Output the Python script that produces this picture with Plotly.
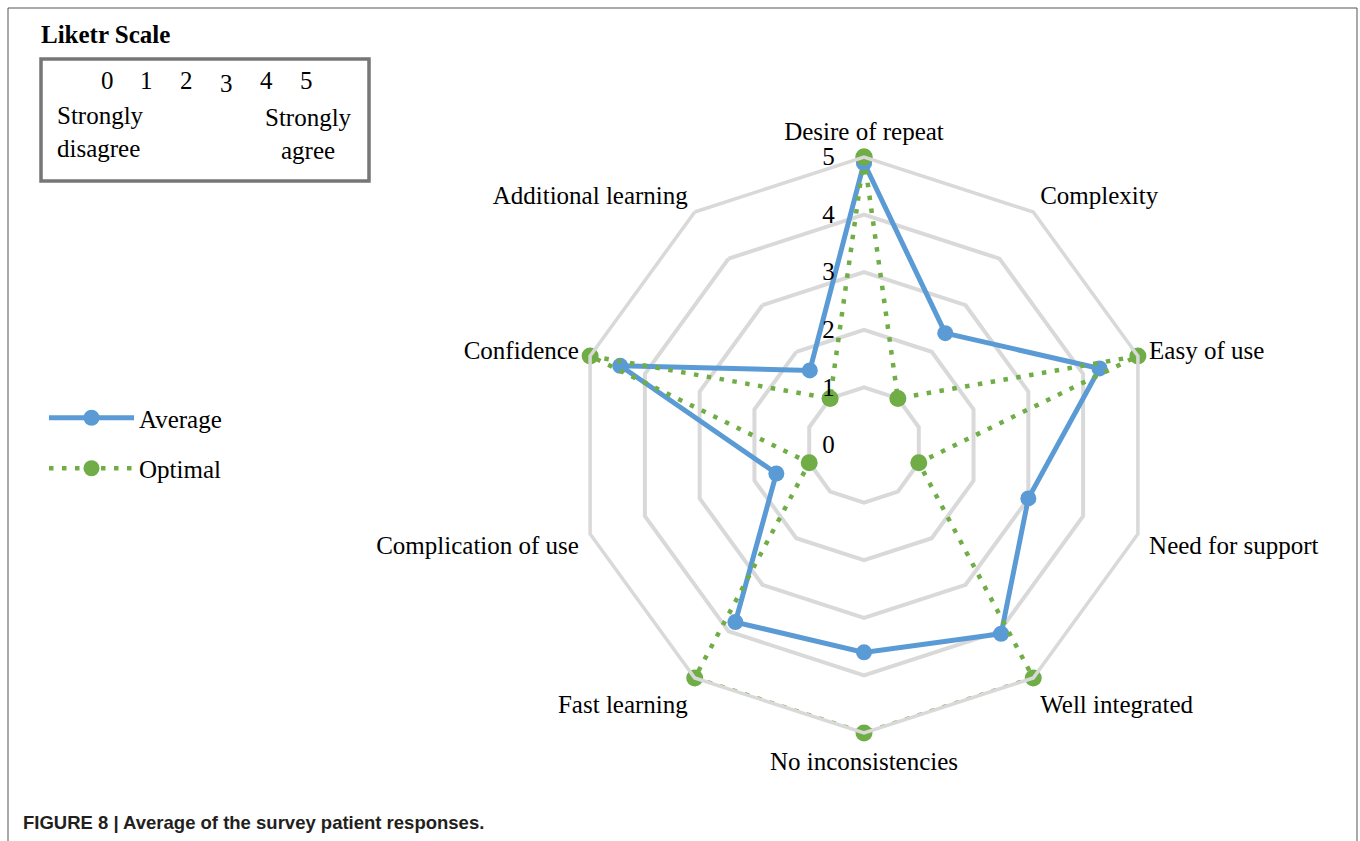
import plotly.graph_objects as go

categories = ["Desire of repeat", "Complexity", "Easy of use", "Need for support",
              "Well integrated", "No inconsistencies", "Fast learning",
              "Complication of use", "Confidence", "Additional learning"]
average = [4.9, 2.4, 4.3, 3.0, 4.05, 3.6, 3.8, 1.6, 4.45, 1.6]
optimal = [5, 1, 5, 1, 5, 5, 5, 1, 5, 1]
radial_ticks = [0, 1, 2, 3, 4, 5]
scale_numbers = ["0", "1", "2", "3", "4", "5"]

W, H = 1360, 841
SERIF = "Liberation Serif, Times New Roman, serif"
BLUE = "#5B9BD5"
GREEN = "#70AD47"
GRID = "#D9D9D9"
FS = 25


def px(x):
    return x / W


def py(y):
    return 1 - y / H


theta = categories + [categories[0]]

fig = go.Figure()
fig.add_trace(go.Scatterpolar(
    r=average + [average[0]], theta=theta, name="Average", mode="lines+markers",
    line=dict(color=BLUE, width=5), marker=dict(size=16, color=BLUE),
    legendgroup="a"))
fig.add_trace(go.Scatterpolar(
    r=optimal + [optimal[0]], theta=theta, name="Optimal", mode="lines+markers",
    line=dict(color=GREEN, width=4.5, dash="4.5px,8.5px"), marker=dict(size=17, color=GREEN),
    legendgroup="b"))

cx, cy, R = 864, 445, 288
fig.update_layout(
    width=W, height=H, margin=dict(l=0, r=0, t=0, b=0),
    paper_bgcolor="white", plot_bgcolor="white",
    font=dict(family=SERIF, size=FS, color="black"),
    polar=dict(
        domain=dict(x=[px(cx - R), px(cx + R)], y=[py(cy + R), py(cy - R)]),
        bgcolor="white", gridshape="linear",
        radialaxis=dict(range=[0, 5], tickvals=radial_ticks, ticktext=scale_numbers,
                        showline=False, ticks="outside", ticklen=20,
                        tickcolor="rgba(0,0,0,0)", gridcolor=GRID, gridwidth=3.5,
                        angle=90, tickangle=90, side="counterclockwise",
                        tickfont=dict(family=SERIF, size=FS, color="black")),
        angularaxis=dict(rotation=90, direction="clockwise", showgrid=False,
                         showline=True, linecolor=GRID, linewidth=3.5,
                         ticks="outside", ticklen=5, tickcolor="rgba(0,0,0,0)",
                         tickfont=dict(family=SERIF, size=FS, color="black")),
    ),
    showlegend=True,
    legend=dict(x=px(44), y=py(395), xanchor="left", yanchor="top",
                font=dict(family=SERIF, size=FS, color="black"),
                tracegroupgap=15, itemwidth=85, bgcolor="rgba(0,0,0,0)"),
)

shapes = [
    dict(type="rect", xref="paper", yref="paper", x0=px(8), x1=px(1357), y0=py(845), y1=py(8),
         line=dict(color="#555555", width=1)),
    dict(type="rect", xref="paper", yref="paper", x0=px(41), x1=px(369), y0=py(181), y1=py(59),
         line=dict(color="#767676", width=3.5)),
]
fig.update_layout(shapes=shapes)

ann = []
ann.append(dict(text="<b>Liketr Scale</b>", x=px(39), y=py(35), xanchor="left", yanchor="middle",
                font=dict(family=SERIF, size=FS, color="black")))
num_x = [107, 146, 186, 226, 266, 306]
num_y = [81, 81, 81, 83, 81, 81]
for t, xx, yy in zip(scale_numbers, num_x, num_y):
    ann.append(dict(text=t, x=px(xx), y=py(yy), xanchor="center", yanchor="middle",
                    font=dict(family=SERIF, size=FS, color="black")))
ann.append(dict(text="Strongly<br>disagree", x=px(55), y=py(132), xanchor="left", yanchor="middle",
                align="left", font=dict(family=SERIF, size=FS, color="black")))
ann.append(dict(text="Strongly<br>agree", x=px(308), y=py(134), xanchor="center", yanchor="middle",
                align="center", font=dict(family=SERIF, size=FS, color="black")))
ann.append(dict(text="<b>FIGURE 8 | Average of the survey patient responses.</b>", x=px(21), y=py(822),
                xanchor="left", yanchor="middle",
                font=dict(family="Liberation Sans, Arial, sans-serif", size=18.5, color="#231f20")))
for a in ann:
    a.update(xref="paper", yref="paper", showarrow=False)
fig.update_layout(annotations=ann)

fig.write_html("out.html", config={"displayModeBar": False},
               post_script="document.body.style.margin='0';")
